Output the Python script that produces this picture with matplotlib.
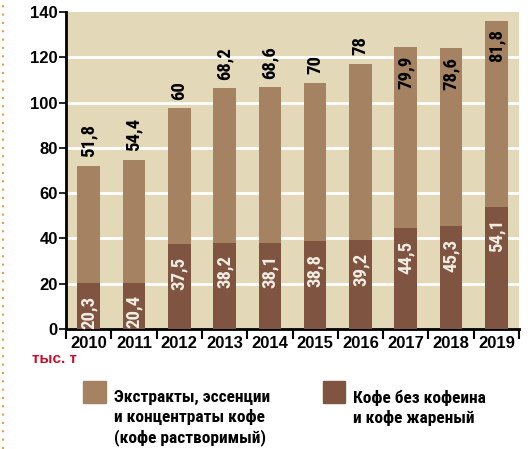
import matplotlib.pyplot as plt
from matplotlib.lines import Line2D
from matplotlib.patches import Rectangle
import numpy as np

# данные
years = ['2010', '2011', '2012', '2013', '2014', '2015', '2016', '2017', '2018', '2019']
decaf = [20.3, 20.4, 37.5, 38.2, 38.1, 38.8, 39.2, 44.5, 45.3, 54.1]
extracts = [51.8, 54.4, 60, 68.2, 68.6, 70, 78, 79.9, 78.6, 81.8]

c_bg = '#e3d9b8'
c_top = '#a58261'
c_bot = '#7f5441'
c_red = '#c8102e'

narrow = ['Liberation Sans Narrow', 'Roboto Condensed', 'DejaVu Sans']
plt.rcParams['font.family'] = ['Liberation Sans', 'DejaVu Sans']


def fmt(v):
    s = ('%.1f' % v).replace('.', ',')
    return s[:-2] if s.endswith(',0') else s


fig = plt.figure(figsize=(5.28, 4.49), dpi=100)
ax = fig.add_axes([66 / 528, 1 - 329 / 449, 453 / 528, 317 / 449])
ax.set_facecolor(c_bg)

x = np.arange(len(years))
ax.bar(x, decaf, width=0.5, color=c_bot, zorder=3)
ax.bar(x, extracts, width=0.5, bottom=decaf, color=c_top, zorder=3)

for i in range(len(years)):
    total = decaf[i] + extracts[i]
    if total > 120:
        ax.annotate(fmt(extracts[i]), (x[i], total), xytext=(0, -6), textcoords='offset points',
                    rotation=90, ha='center', va='top', fontsize=13.5, fontweight='bold',
                    family=narrow, color='black', zorder=4)
    else:
        ax.annotate(fmt(extracts[i]), (x[i], total), xytext=(0, 6), textcoords='offset points',
                    rotation=90, ha='center', va='bottom', fontsize=13.5, fontweight='bold',
                    family=narrow, color='black', zorder=4)
    ax.annotate(fmt(decaf[i]), (x[i], decaf[i]), xytext=(0, -9), textcoords='offset points',
                rotation=90, ha='center', va='top', fontsize=13.5, fontweight='bold',
                family=narrow, color='#f2eee4', zorder=4)

ax.set_xlim(-0.5, len(years) - 0.5)
ax.set_ylim(0, 140)
ax.set_yticks(range(0, 141, 20))
ax.tick_params(axis='y', length=5, width=1.2, labelsize=12, pad=1)
ax.set_yticklabels([str(v) for v in range(0, 141, 20)], fontweight='bold')
for v in range(20, 140, 20):
    ax.axhline(v, color='white', lw=2, zorder=1)

ax.set_xticks(x)
ax.set_xticklabels(years, fontweight='bold', fontsize=12)
ax.tick_params(axis='x', length=0, pad=5)
ax.set_xticks(np.arange(-0.5, len(years)), minor=True)
ax.tick_params(axis='x', which='minor', length=7, width=1.5, direction='out')

for s in ['top', 'right']:
    ax.spines[s].set_visible(False)
ax.spines['left'].set_linewidth(2)
ax.spines['bottom'].set_linewidth(2)

fig.text(32 / 528, 1 - 359 / 449, 'тыс. т', color=c_red, fontsize=11, fontweight='bold',
         va='center', ha='left')

# легенда
fig.patches.append(Rectangle((83 / 528, 1 - 403 / 449), 23 / 528, 22 / 449,
                             color=c_top, transform=fig.transFigure, figure=fig))
fig.patches.append(Rectangle((323 / 528, 1 - 403 / 449), 22 / 528, 22 / 449,
                             color=c_bot, transform=fig.transFigure, figure=fig))
fig.text(114 / 528, 1 - 390 / 449, 'Экстракты, эссенции\nи концентраты кофе\n(кофе растворимый)',
         family=narrow, fontsize=12.5, fontweight='bold', va='top', ha='left', linespacing=1.3)
fig.text(353 / 528, 1 - 390 / 449, 'Кофе без кофеина\nи кофе жареный',
         family=narrow, fontsize=12.5, fontweight='bold', va='top', ha='left', linespacing=1.3)

# пунктир слева
fig.add_artist(Line2D([3 / 528, 3 / 528], [0, 1], transform=fig.transFigure,
                      color='#e8a040', lw=1.5, linestyle=(0, (1, 3))))

fig.savefig('out.png', dpi=100)
